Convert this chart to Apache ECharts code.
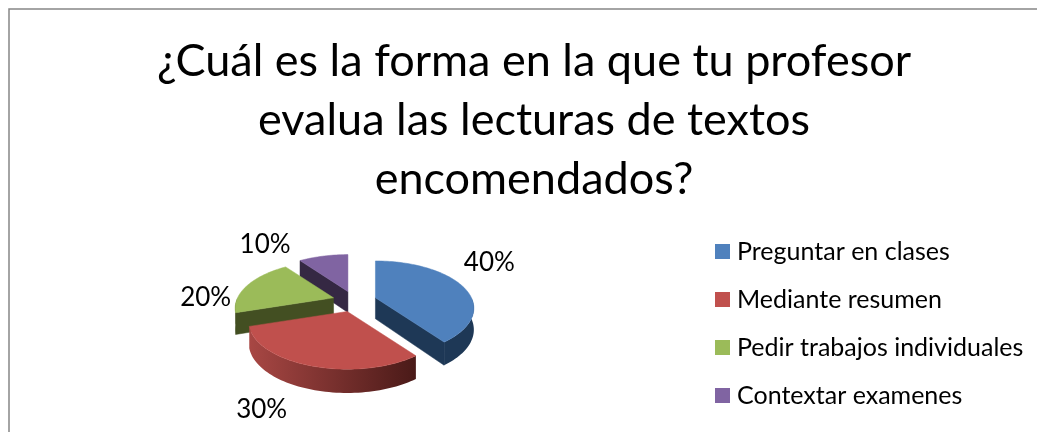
<!DOCTYPE html>
<html><head><meta charset="utf-8">
<style>html,body{margin:0;padding:0;background:#fff}#c{width:1037px;height:432px}</style>
<script src="https://cdn.jsdelivr.net/npm/echarts@6/dist/echarts.min.js"></script>
</head><body><div id="c"></div>
<script>
const categories = ['Preguntar en clases','Mediante resumen','Pedir trabajos individuales','Contextar examenes'];
const values = [40,30,20,10];
const titleLines = ['¿Cuál es la forma en la que tu profesor','evalua las lecturas de textos','encomendados?'];
const topColors = ['#4F81BD','#C0504D','#9BBB59','#8064A2'];
const sideColors = ['#1E3856','#A84744','#434F22','#352843'];
const sideColorsEnd = ['#1E3856','#4A1A18','#434F22','#352843'];
const FONT = 'Lato, Carlito, sans-serif';

const view = {cx:354.5, cy:301, a:96, b:45, p:0.22, explode:0.233, depth:21};
const labelNudge = [[11,-20],[-37,28],[-25,15],[-54,-5]];
const total = values.reduce((s,v)=>s+v,0);

function project(x,y,z){
  const s = 1/(1-view.p*y);
  return [x*view.a*s, y*view.b*s + z*view.depth*Math.sqrt(s)];
}
function sliceAngles(i){
  let before=0; for(let k=0;k<i;k++) before+=values[k];
  return [before/total*2*Math.PI,(before+values[i])/total*2*Math.PI];
}
function onDisk(th,r,apex,z){
  const q=project(r*Math.sin(th),-r*Math.cos(th),z);
  return [apex[0]+q[0],apex[1]+q[1]];
}
function arc(t0,t1,apex,z){
  const n=Math.max(2,Math.ceil(Math.abs(t1-t0)/0.03)),pts=[];
  for(let j=0;j<=n;j++) pts.push(onDisk(t0+(t1-t0)*j/n,1,apex,z));
  return pts;
}
function poly(points,fill,z2){
  return {type:'polygon',shape:{points},z2:z2||0,style:{fill,stroke:fill,lineWidth:0.5},silent:true};
}
function makeRender(i){
  return function(){
    const [t0,t1]=sliceAngles(i), mid=(t0+t1)/2;
    const e=project(view.explode*Math.sin(mid),-view.explode*Math.cos(mid),0);
    const apex=[view.cx+e[0],view.cy+e[1]];
    const apexBot=onDisk(0,0,apex,1);
    const kids=[];
    const side=sideColors[i], sideEnd=sideColorsEnd[i];
    const cut=(th)=>[apex,onDisk(th,1,apex,0),onDisk(th,1,apex,1),apexBot];
    if(t1<Math.PI) kids.push(poly(cut(t1),side));
    if(t0>Math.PI) kids.push(poly(cut(t0),side));
    const from=Math.max(t0,Math.PI/2), to=Math.min(t1,Math.PI*1.5);
    if(to>from){
      const topA=arc(from,to,apex,0), botA=arc(from,to,apex,1).reverse();
      const grad=new echarts.graphic.LinearGradient(0,0,1,0,[{offset:0,color:side},{offset:1,color:sideEnd}]);
      kids.push({type:'polygon',shape:{points:topA.concat(botA)},style:{fill:grad},silent:true});
    }
    kids.push(poly([apex].concat(arc(t0,t1,apex,0)),topColors[i],2));
    const lp=onDisk(mid,1.22,apex,0);
    kids.push({type:'text',z2:5,x:lp[0]+labelNudge[i][0],y:lp[1]+labelNudge[i][1],
      style:{text:Math.round(values[i]/total*100)+'%',fill:'#000',font:'26px '+FONT,align:'center',verticalAlign:'middle'}});
    return {type:'group',children:kids};
  };
}
const chart=echarts.init(document.getElementById('c'),null,{renderer:'canvas'});
chart.setOption({
  animation:false,
  backgroundColor:'#fff',
  graphic:[{type:'rect',shape:{x:9,y:9,width:1100,height:500},style:{fill:'none',stroke:'#868686',lineWidth:1.5},silent:true}],
  title:{text:titleLines.join('\n'),left:529,top:27,textAlign:'center',
    textStyle:{fontFamily:FONT,fontSize:45,fontWeight:'normal',color:'#000',lineHeight:59}},
  legend:{orient:'vertical',left:710,top:234,itemWidth:15,itemHeight:15,itemGap:23,icon:'rect',
    data:categories,textStyle:{fontFamily:FONT,fontSize:25,color:'#000',padding:[0,0,0,2]}},
  series:categories.map((name,i)=>({
    type:'custom',name,coordinateSystem:'none',
    itemStyle:{color:topColors[i]},
    z:[1,4,2,1][i],
    data:[values[i]],
    renderItem:makeRender(i)
  }))
});
</script></body></html>
